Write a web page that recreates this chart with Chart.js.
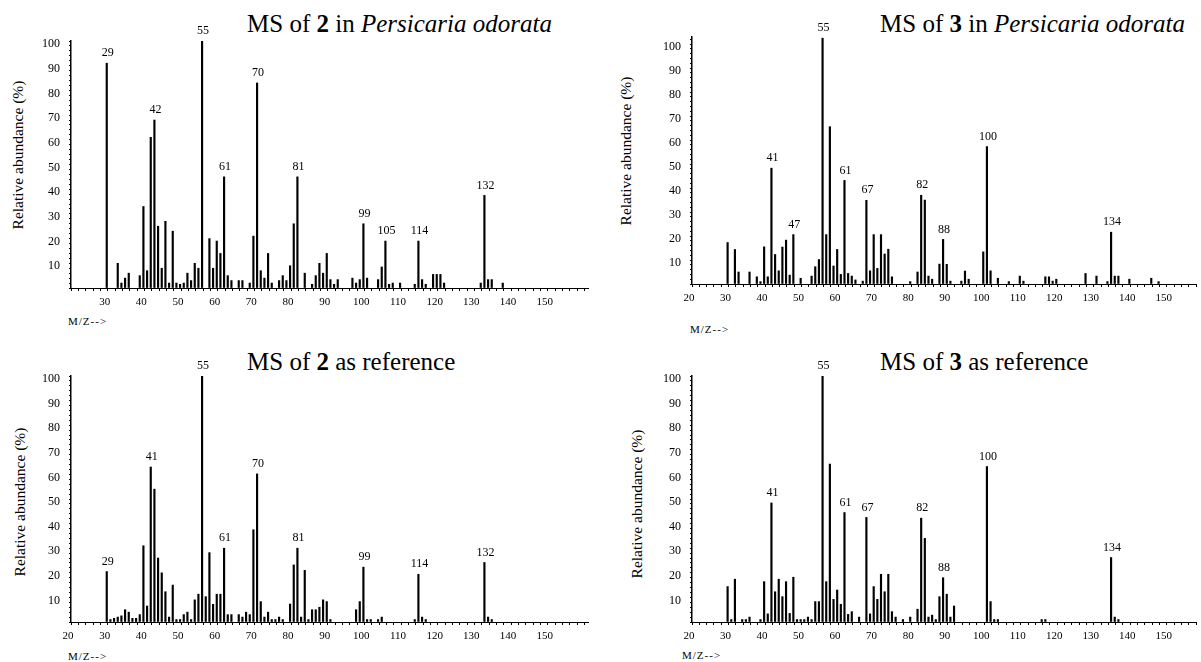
<!DOCTYPE html>
<html>
<head>
<meta charset="utf-8">
<script src="https://cdn.jsdelivr.net/npm/chart.js@4/dist/chart.umd.min.js"></script>
<style>
  html, body { margin: 0; padding: 0; background: #fff; }
  body {
    width: 1201px; height: 662px; position: relative; overflow: hidden;
    font-family: "Liberation Serif", "Times New Roman", serif; color: #000;
  }
  canvas { position: absolute; }
  .title { position: absolute; font-size: 25px; line-height: 25px; white-space: nowrap; }
  .ytitle {
    position: absolute; font-size: 15.5px; line-height: 16px; white-space: nowrap;
    transform: translate(-50%, -50%) rotate(-90deg);
  }
  .mz { position: absolute; font-size: 11px; letter-spacing: 1px; white-space: nowrap; }
</style>
</head>
<body>

<div class="title" style="left:247px;top:11px">MS of <b>2</b> in <i>Persicaria odorata</i></div>
<div class="title" style="left:880px;top:11px">MS of <b>3</b> in <i>Persicaria odorata</i></div>
<div class="title" style="left:247px;top:349px">MS of <b>2</b> as reference</div>
<div class="title" style="left:880px;top:349px">MS of <b>3</b> as reference</div>

<div class="ytitle" style="left:18px;top:155px">Relative abundance (%)</div>
<div class="ytitle" style="left:626px;top:151px">Relative abundance (%)</div>
<div class="ytitle" style="left:20px;top:502px">Relative abundance (%)</div>
<div class="ytitle" style="left:637px;top:504px">Relative abundance (%)</div>

<div class="mz" style="left:68px;top:315px">M/Z--&gt;</div>
<div class="mz" style="left:690px;top:323px">M/Z--&gt;</div>
<div class="mz" style="left:68px;top:650px">M/Z--&gt;</div>
<div class="mz" style="left:682px;top:649px">M/Z--&gt;</div>

<canvas id="ms2Sample" width="600" height="331" style="left:0;top:0"></canvas>
<canvas id="ms3Sample" width="601" height="331" style="left:600px;top:0"></canvas>
<canvas id="ms2Ref" width="600" height="331" style="left:0;top:331px"></canvas>
<canvas id="ms3Ref" width="601" height="331" style="left:600px;top:331px"></canvas>

<script>
// MS of 2 in Persicaria odorata
const mz2Sample = [29, 32, 33, 34, 35, 38, 39, 40, 41, 42, 43, 44, 45, 46, 47, 48, 49, 50, 51, 52,
  53, 54, 55, 57, 58, 59, 60, 61, 62, 63, 65, 66, 68, 69, 70, 71, 72, 73, 74, 76,
  77, 78, 79, 80, 81, 83, 85, 86, 87, 88, 89, 90, 91, 92, 96, 97, 98, 99, 100, 103,
  104, 105, 106, 107, 109, 113, 114, 115, 116, 118, 119, 120, 121, 131, 132, 133, 134, 137];
const ab2Sample = [91, 10, 2, 4, 6, 5, 33, 7, 61, 68, 25, 8, 27, 2, 23, 2, 1.5, 2, 6, 3,
  10, 8, 100, 20, 8, 19, 14, 45, 5, 3, 3, 3, 2, 21, 83, 7, 4, 14, 2, 3,
  5, 3, 9, 26, 45, 6, 1.5, 5, 10, 6, 14, 3.4, 1.5, 3.4, 4, 2, 3.4, 26, 4, 3.4,
  8.5, 19, 1.5, 2, 2, 1.5, 19, 3.4, 1.5, 5.5, 5.5, 5.5, 2, 2, 37.5, 3.4, 3.4, 2];
const peaks2Sample = [29, 42, 55, 61, 70, 81, 99, 105, 114, 132];

// MS of 3 in Persicaria odorata
const mz3Sample = [29, 31, 32, 35, 37, 38, 39, 40, 41, 42, 43, 44, 45, 46, 47, 49, 52, 53, 54, 55,
  56, 57, 58, 59, 60, 61, 62, 63, 64, 66, 67, 68, 69, 70, 71, 72, 73, 74, 79, 81,
  82, 83, 84, 85, 87, 88, 89, 90, 93, 94, 95, 99, 100, 101, 103, 106, 109, 110, 116, 117,
  118, 119, 127, 130, 133, 134, 135, 136, 139, 145, 147];
const ab3Sample = [17.3, 14.4, 5, 5, 3, 1, 15.5, 3, 48.3, 12.3, 5.5, 15.4, 18.3, 3.7, 20.6, 2.4, 3.3, 7.2, 10.2, 102.5,
  20.6, 65.6, 7.5, 14.4, 4, 43.2, 4.4, 3.3, 1.7, 1.2, 34.9, 5.5, 20.6, 6.5, 20.6, 12.5, 14.5, 3, 1, 5,
  37, 35, 3.3, 2, 8.3, 18.6, 8.2, 1.2, 1.2, 5.4, 2, 13.4, 57.3, 5.5, 2.4, 1, 3.3, 1.2, 3, 3,
  1.2, 2, 4.4, 3.3, 1, 21.6, 3.3, 3.3, 2, 2.4, 1];
const peaks3Sample = [41, 47, 55, 61, 67, 82, 88, 100, 134];

// MS of 2 as reference
const mz2Ref = [29, 30, 31, 32, 33, 34, 35, 36, 37, 38, 39, 40, 41, 42, 43, 44, 45, 46, 47, 48,
  49, 50, 51, 52, 53, 54, 55, 56, 57, 58, 59, 60, 61, 62, 63, 65, 66, 67, 68, 69,
  70, 71, 72, 73, 74, 75, 76, 77, 79, 80, 81, 82, 83, 84, 85, 86, 87, 88, 89, 90,
  97, 98, 99, 100, 101, 103, 104, 113, 114, 115, 116, 132, 133, 134];
const ab2Ref = [20.5, 1, 1.5, 2, 2.5, 5, 4, 1.5, 1.5, 3, 31, 6.5, 63, 54, 26, 20, 12.3, 2, 15, 1,
  1, 3, 4, 1, 9, 11.3, 100, 10.3, 28.2, 7.2, 11.3, 11.3, 30, 3, 3, 3, 2, 4, 3, 37.5,
  60.2, 8.3, 2, 4, 1, 1, 2, 1, 7.3, 23.2, 30, 2, 21, 1, 5, 5, 6, 9, 8.3, 1,
  5, 8.3, 22.3, 1, 1, 1, 2, 1, 19.4, 2, 1, 24.2, 2, 1];
const peaks2Ref = [29, 41, 55, 61, 70, 81, 99, 114, 132];

// MS of 3 as reference
const mz3Ref = [29, 30, 31, 33, 34, 35, 38, 39, 40, 41, 42, 43, 44, 45, 46, 47, 48, 49, 50, 51,
  52, 53, 54, 55, 56, 57, 58, 59, 60, 61, 62, 63, 65, 67, 68, 69, 70, 71, 72, 73,
  74, 75, 77, 79, 81, 82, 83, 84, 85, 86, 87, 88, 89, 90, 91, 100, 101, 102, 103, 115,
  116, 134, 135, 136];
const ab3Ref = [14.4, 1, 17.4, 1, 1, 2, 1, 16.4, 3.3, 48.4, 12.3, 17.4, 10.3, 16.4, 3.5, 18.2, 1, 1, 1, 2,
  1, 8.3, 8.3, 100, 16.4, 64.2, 9.2, 13, 7.2, 44.5, 3.1, 4.2, 2, 42.5, 3.3, 14.4, 9.2, 19.4, 12.3, 19.4,
  4.2, 2, 1, 2, 5.2, 42.2, 34, 2, 2.8, 1, 10.3, 18, 11.3, 2, 6.5, 63.2, 8.3, 1, 1, 1,
  1, 26.2, 2, 1];
const peaks3Ref = [41, 55, 61, 67, 82, 88, 100, 134];

// tick labels
const xLabelsNo20 = [30, 40, 50, 60, 70, 80, 90, 100, 110, 120, 130, 140, 150];
const xLabels = [20, 30, 40, 50, 60, 70, 80, 90, 100, 110, 120, 130, 140, 150];
const yLabels = [10, 20, 30, 40, 50, 60, 70, 80, 90, 100];

// the instrument trace sits a little right of its printed axis
const MZ_SHIFT = 0.75;

const tickFont = { family: '"Liberation Serif", "Times New Roman", serif', size: 11 };

function drawSpectrum(id, mz, ab, peaks, xTicks, xMax, yMax, box) {
  const peakLabels = {
    id: "peakLabels",
    afterDatasetsDraw(chart) {
      const ctx = chart.ctx;
      const meta = chart.getDatasetMeta(0);
      ctx.save();
      ctx.font = '12px "Liberation Serif", "Times New Roman", serif';
      ctx.fillStyle = "#000";
      ctx.textAlign = "center";
      ctx.textBaseline = "bottom";
      peaks.forEach((m) => {
        const i = mz.indexOf(m);
        if (i < 0) return;
        const bar = meta.data[i];
        ctx.fillText(String(m), bar.x + 1, bar.y - 4);
      });
      ctx.restore();
    },
  };

  new Chart(document.getElementById(id), {
    type: "bar",
    data: {
      datasets: [
        {
          data: mz.map((m, i) => ({ x: m + MZ_SHIFT, y: ab[i] })),
          backgroundColor: "#000",
          barThickness: 1.5,
        },
      ],
    },
    options: {
      responsive: false,
      animation: false,
      events: [],
      layout: { padding: { top: box.top, right: box.right, left: 0, bottom: 0 } },
      plugins: { legend: { display: false }, tooltip: { enabled: false } },
      scales: {
        x: {
          type: "linear",
          min: 20,
          max: xMax,
          offset: false,
          grid: { offset: false, drawOnChartArea: false, drawTicks: true, tickLength: 3, color: "#000" },
          border: { color: "#000", width: 1 },
          ticks: {
            stepSize: 2,
            autoSkip: false,
            includeBounds: false,
            maxRotation: 0,
            minRotation: 0,
            labelOffset: -3,
            padding: 5,
            color: "#000",
            font: tickFont,
            callback: (v) => (xTicks.includes(v) ? String(v) : ""),
          },
          afterFit: (s) => {
            s.height = box.bottom;
          },
        },
        y: {
          min: 0,
          max: yMax,
          grid: { drawOnChartArea: false, drawTicks: true, tickLength: 2, color: "#000" },
          border: { color: "#000", width: 1.5 },
          ticks: {
            stepSize: 2,
            autoSkip: false,
            includeBounds: false,
            labelOffset: 3,
            padding: 9,
            color: "#000",
            font: { family: '"Liberation Serif", "Times New Roman", serif', size: 12 },
            callback: (v) => (yLabels.includes(v) ? String(v) : ""),
          },
          afterFit: (s) => {
            s.width = box.left;
          },
        },
      },
    },
    plugins: [peakLabels],
  });
}

drawSpectrum("ms2Sample", mz2Sample, ab2Sample, peaks2Sample, xLabelsNo20, 161, 100,
  { left: 71, top: 41, right: 12, bottom: 43 });
drawSpectrum("ms3Sample", mz3Sample, ab3Sample, peaks3Sample, xLabels, 158, 103,
  { left: 92, top: 37, right: 0, bottom: 47 });
drawSpectrum("ms2Ref", mz2Ref, ab2Ref, peaks2Ref, xLabels, 161, 100,
  { left: 71, top: 45, right: 12, bottom: 40 });
drawSpectrum("ms3Ref", mz3Ref, ab3Ref, peaks3Ref, xLabels, 158, 100,
  { left: 92, top: 45, right: 0, bottom: 40 });
</script>
</body>
</html>
